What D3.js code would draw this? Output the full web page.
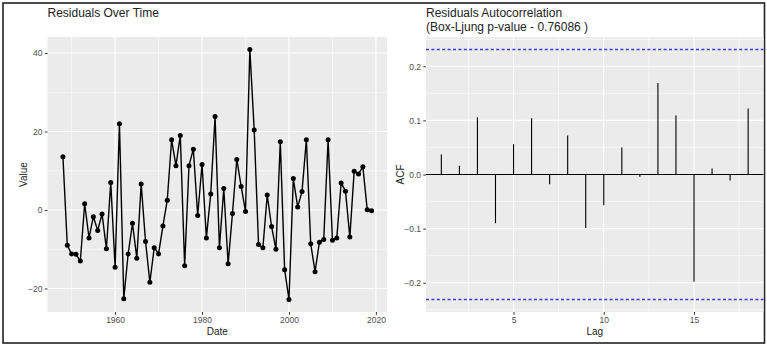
<!DOCTYPE html>
<meta charset="utf-8">
<style>
body { margin: 0; background: white; }
svg { display: block; font-family: "Liberation Sans", Arial, sans-serif; }
.panel { fill: #ebebeb; }
.grid.major { stroke: white; stroke-width: 1.1px; }
.grid.minor { stroke: white; stroke-width: 0.55px; }
.axis .domain { display: none; }
.axis line { stroke: #333; stroke-width: 1px; }
.axis text { fill: #4d4d4d; font-size: 8.5px; }
.title { font-size: 12px; fill: #222; }
.axtitle { font-size: 10px; fill: #222; }
.resid { fill: none; stroke: black; stroke-width: 1.4px; stroke-linejoin: round; }
.dot { fill: black; }
.acfbar { stroke: black; stroke-width: 1.1px; }
.zero { stroke: black; stroke-width: 1px; }
</style>
<body>
<script src="https://d3js.org/d3.v7.min.js"></script>
<script>

// residual series, one value per year
var years = [1948, 1949, 1950, 1951, 1952, 1953, 1954, 1955, 1956, 1957, 1958, 1959,
	1960, 1961, 1962, 1963, 1964, 1965, 1966, 1967, 1968, 1969, 1970, 1971,
	1972, 1973, 1974, 1975, 1976, 1977, 1978, 1979, 1980, 1981, 1982, 1983,
	1984, 1985, 1986, 1987, 1988, 1989, 1990, 1991, 1992, 1993, 1994, 1995,
	1996, 1997, 1998, 1999, 2000, 2001, 2002, 2003, 2004, 2005, 2006, 2007,
	2008, 2009, 2010, 2011, 2012, 2013, 2014, 2015, 2016, 2017, 2018, 2019];
var residuals = [13.6, -9.0, -11.2, -11.3, -13.0, 1.6, -7.1, -1.7, -5.2, -1.0, -9.9, 7.0,
	-14.6, 22.0, -22.6, -11.2, -3.4, -12.3, 6.6, -8.0, -18.4, -9.6, -11.2, -4.1,
	2.5, 17.9, 11.3, 19.0, -14.2, 11.3, 15.5, -1.4, 11.6, -7.1, 4.1, 23.8,
	-9.6, 5.5, -13.7, -0.9, 12.9, 6.0, -0.4, 40.9, 20.4, -8.8, -9.6, 3.8,
	-4.2, -10.0, 17.4, -15.2, -22.8, 8.0, 0.8, 4.7, 17.9, -8.6, -15.7, -8.2,
	-7.5, 17.9, -7.7, -7.1, 6.9, 4.8, -6.9, 9.9, 9.2, 11.0, 0.1, -0.2];

// autocorrelation of the residuals
var lags = [1, 2, 3, 4, 5, 6, 7, 8, 9, 10, 11, 12, 13, 14, 15, 16, 17, 18];
var acf = [0.037, 0.016, 0.106, -0.090, 0.056, 0.104, -0.018, 0.072, -0.099,
	-0.057, 0.050, -0.004, 0.169, 0.109, -0.198, 0.011, -0.011, 0.122];
var ciLevel = 0.231;
var pValue = "0.76086";

var dateTicks = [1960, 1980, 2000, 2020];
var valueTicks = [-20, 0, 20, 40];
var lagTicks = [5, 10, 15];
var acfTicks = [-0.2, -0.1, 0.0, 0.1, 0.2];

var width = 767, height = 345;
var left = {x0: 47.5, x1: 387, y0: 37, y1: 312};
var right = {x0: 426, x1: 763.5, y0: 37, y1: 312};

// ggplot style 5% padding
function expand(ext) {
	var p = (ext[1] - ext[0]) * 0.05;
	return [ext[0] - p, ext[1] + p];
}
// minor breaks half way between majors, kept inside the domain
function minors(ticks, dom) {
	var step = ticks[1] - ticks[0];
	var out = [];
	for (var i = -1; i < ticks.length; i++) {
		var v = (i < 0 ? ticks[0] - step : ticks[i]) + step / 2;
		if (v > dom[0] && v < dom[1]) out.push(v);
	}
	return out;
}

var svg = d3.select("body").append("svg")
	.attr("width", width)
	.attr("height", height);

svg.append("rect")
	.attr("x", 3).attr("y", 3)
	.attr("width", 761.5).attr("height", 340)
	.attr("fill", "none")
	.attr("stroke", "#222")
	.attr("stroke-width", 1.6);

function panel(p, x, y, xt, yt) {
	var g = svg.append("g");
	g.append("rect").attr("class", "panel")
		.attr("x", p.x0).attr("y", p.y0)
		.attr("width", p.x1 - p.x0).attr("height", p.y1 - p.y0);

	g.selectAll(".ym").data(minors(yt, y.domain())).enter().append("line")
		.attr("class", "grid minor")
		.attr("x1", p.x0).attr("x2", p.x1)
		.attr("y1", function(d) { return y(d); }).attr("y2", function(d) { return y(d); });
	g.selectAll(".xm").data(minors(xt, x.domain())).enter().append("line")
		.attr("class", "grid minor")
		.attr("y1", p.y0).attr("y2", p.y1)
		.attr("x1", function(d) { return x(d); }).attr("x2", function(d) { return x(d); });
	g.selectAll(".yM").data(yt).enter().append("line")
		.attr("class", "grid major")
		.attr("x1", p.x0).attr("x2", p.x1)
		.attr("y1", function(d) { return y(d); }).attr("y2", function(d) { return y(d); });
	g.selectAll(".xM").data(xt).enter().append("line")
		.attr("class", "grid major")
		.attr("y1", p.y0).attr("y2", p.y1)
		.attr("x1", function(d) { return x(d); }).attr("x2", function(d) { return x(d); });

	svg.append("g")
		.attr("class", "axis")
		.attr("transform", "translate(0," + p.y1 + ")")
		.call(d3.axisBottom(x).tickValues(xt).tickSize(2.75).tickPadding(2.2).tickFormat(d3.format("")));
	svg.append("g")
		.attr("class", "axis")
		.attr("transform", "translate(" + p.x0 + ",0)")
		.call(d3.axisLeft(y).tickValues(yt).tickSize(2.75).tickPadding(2.2).tickFormat(yt[1] - yt[0] < 1 ? d3.format(".1f") : d3.format("")));
	return g;
}

// ---- left: residuals over time
var x = d3.scaleLinear().domain(expand(d3.extent(years))).range([left.x0, left.x1]);
var y = d3.scaleLinear().domain(expand(d3.extent(residuals))).range([left.y1, left.y0]);
var gl = panel(left, x, y, dateTicks, valueTicks);

var line = d3.line()
	.x(function(d, i) { return x(years[i]); })
	.y(function(d) { return y(d); });

gl.append("path").datum(residuals).attr("class", "resid").attr("d", line);
gl.selectAll(".dot").data(residuals).enter().append("circle")
	.attr("class", "dot")
	.attr("cx", function(d, i) { return x(years[i]); })
	.attr("cy", function(d) { return y(d); })
	.attr("r", 2.5);

svg.append("text").attr("class", "title")
	.attr("x", left.x0).attr("y", 16.5)
	.text("Residuals Over Time");
svg.append("text").attr("class", "axtitle")
	.attr("x", (left.x0 + left.x1) / 2).attr("y", 335)
	.attr("text-anchor", "middle")
	.text("Date");
svg.append("text").attr("class", "axtitle")
	.attr("transform", "translate(23," + (left.y0 + left.y1) / 2 + ") rotate(-90)")
	.attr("dy", "0.35em")
	.attr("text-anchor", "middle")
	.text("Value");

// ---- right: autocorrelation
var xl = d3.scaleLinear().domain(expand(d3.extent(lags))).range([right.x0, right.x1]);
var ya = d3.scaleLinear()
	.domain(expand(d3.extent(acf.concat([ciLevel, -ciLevel]))))
	.range([right.y1, right.y0]);
var gr = panel(right, xl, ya, lagTicks, acfTicks);

gr.append("line").attr("class", "zero")
	.attr("x1", right.x0).attr("x2", right.x1)
	.attr("y1", ya(0)).attr("y2", ya(0));

gr.selectAll(".acfbar").data(acf).enter().append("line")
	.attr("class", "acfbar")
	.attr("x1", function(d, i) { return xl(lags[i]); })
	.attr("x2", function(d, i) { return xl(lags[i]); })
	.attr("y1", ya(0))
	.attr("y2", function(d) { return ya(d); });

gr.selectAll(".ci").data([ciLevel, -ciLevel]).enter().append("line")
	.attr("class", "ci")
	.attr("x1", right.x0).attr("x2", right.x1)
	.attr("y1", function(d) { return ya(d); })
	.attr("y2", function(d) { return ya(d); })
	.attr("stroke", "#3b3bf0")
	.attr("stroke-width", 1.3)
	.attr("stroke-dasharray", "3,2.4");

svg.append("text").attr("class", "title")
	.attr("x", right.x0).attr("y", 16.5)
	.text("Residuals Autocorrelation");
svg.append("text").attr("class", "title")
	.attr("x", right.x0).attr("y", 30.5)
	.text("(Box-Ljung p-value - " + pValue + " )");
svg.append("text").attr("class", "axtitle")
	.attr("x", (right.x0 + right.x1) / 2).attr("y", 335)
	.attr("text-anchor", "middle")
	.text("Lag");
svg.append("text").attr("class", "axtitle")
	.attr("transform", "translate(400.5," + (right.y0 + right.y1) / 2 + ") rotate(-90)")
	.attr("dy", "0.35em")
	.attr("text-anchor", "middle")
	.text("ACF");

</script>
